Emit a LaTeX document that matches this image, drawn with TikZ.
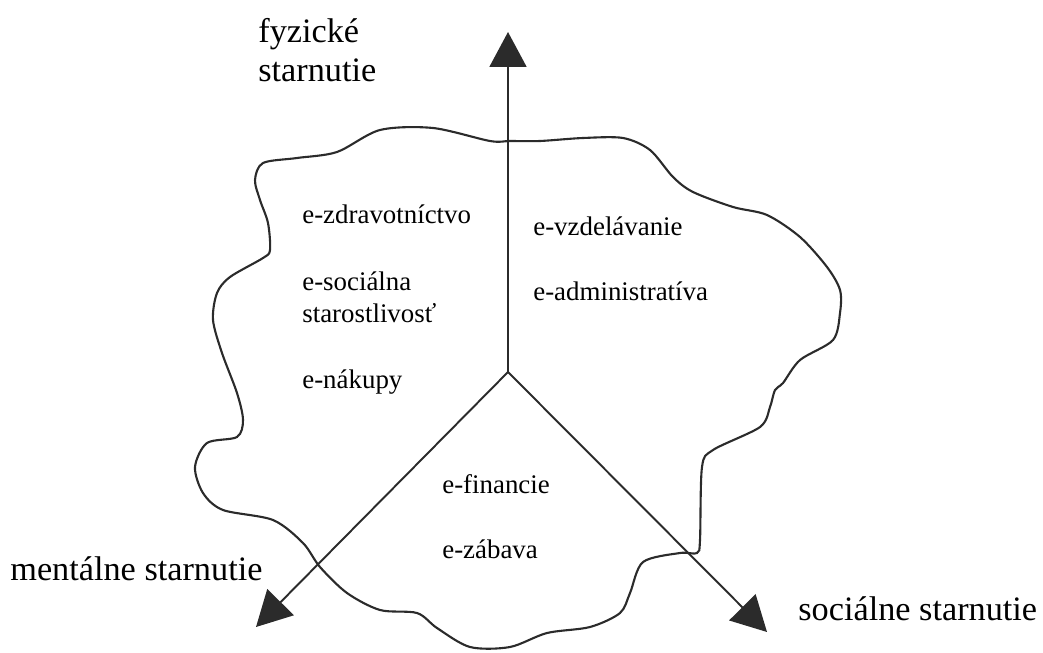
\documentclass[tikz,border=0pt]{standalone}
\usepackage{fontspec}
\setmainfont{Liberation Serif}
\usetikzlibrary{arrows.meta}
\definecolor{ink}{HTML}{2B2B2B}
\tikzset{
  axislabel/.style={anchor=base west,inner sep=0pt,font=\fontsize{19.5}{23}\selectfont},
  servicetext/.style={anchor=base west,inner sep=0pt,font=\fontsize{15.3}{18}\selectfont},
  axis/.style={draw=ink,line width=1.1pt,-{Triangle[length=0.7cm,width=0.74cm]}}
}
\begin{document}
\begin{tikzpicture}[x=0.02cm,y=-0.02cm]
            \useasboundingbox (0,0) rectangle (1043,652);
            % blob
            \draw[ink,line width=1.2pt] plot[smooth cycle,tension=0.5] coordinates {
              (510,141) (490,141) (433,128) (380,130) (337,152) (297,158) (263,163)
              (255,180) (260,200) (268,223) (270,250) (263,258) (230,277) (217,293)
              (213,320) (222,353) (237,393) (243,420) (237,437) (207,443) (195,467)
              (203,493) (223,510) (273,520) (303,543) (320,567) (347,593) (380,610)
              (417,613) (437,628) (470,647) (510,647) (547,633) (590,627) (620,613)
              (630,593) (643,562) (680,553) (697,553) (700,540) (702,467) (713,450)
              (760,427) (770,407) (775,390) (783,383) (800,360) (833,340) (840,313)
              (840,290) (827,267) (800,237) (767,215) (733,207) (693,192) (673,177)
              (650,150) (623,138) (583,138) (540,141)};
            % axes
            \coordinate (o) at (508,372);
            \coordinate (phys) at (508,32);
            \coordinate (ment) at (256,627);
            \coordinate (soc) at (767,632);
            \draw[axis] (o) -- (phys);
            \draw[axis] (o) -- (ment);
            \draw[axis] (o) -- (soc);
            % labels
            \node[axislabel] (lphys1) at (258,43) {fyzické};
            \node[axislabel] (lphys2) at (258,82) {starnutie};
            \node[axislabel] (lment) at (10,580) {mentálne starnutie};
            \node[axislabel] (lsoc) at (798,620) {sociálne starnutie};
            \node[servicetext] (zdr) at (302,223) {e-zdravotníctvo};
            \node[servicetext] (soc1) at (302,290) {e-sociálna};
            \node[servicetext] (soc2) at (302,322) {starostlivosť};
            \node[servicetext] (nak) at (302,388) {e-nákupy};
            \node[servicetext] (vzd) at (533,235) {e-vzdelávanie};
            \node[servicetext] (adm) at (533,300) {e-administratíva};
            \node[servicetext] (fin) at (442,493) {e-financie};
            \node[servicetext] (zab) at (442,558) {e-zábava};
\end{tikzpicture}
\end{document}
